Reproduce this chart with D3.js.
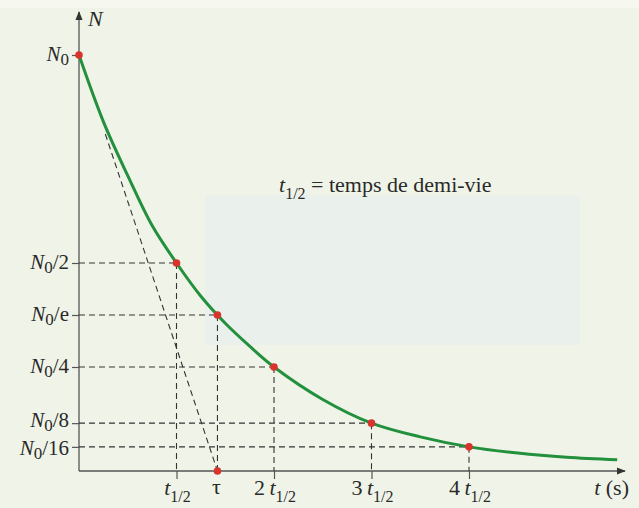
<!DOCTYPE html>
<html>
<head>
<meta charset="utf-8">
<script src="https://cdn.jsdelivr.net/npm/d3@7"></script>
<style>
  body { margin: 0; background: #f0f4e8; }
  svg { display: block; }
</style>
</head>
<body>
<script>
// decay curve (t in half-lives, N as fraction of N0)
const curveT = [0, 0.25, 0.5, 0.75, 1, 1.25, 1.5, 1.75, 2, 2.5, 3, 3.5, 4, 4.5, 5, 5.52];
const curveN = [1, 0.84, 0.71, 0.59, 0.5, 0.42, 0.355, 0.30, 0.25, 0.172, 0.115, 0.082, 0.058, 0.043, 0.033, 0.027];

// marked points
const markT = [0, 1, 1.42, 2, 3, 4];
const markN = [1, 0.5, 0.375, 0.25, 0.115, 0.058];

// y tick labels (N0 over ...)
const yTickVals = [1, 0.5, 0.375, 0.25, 0.115, 0.058];
const yTickDen = ["", "2", "e", "4", "8", "16"];

// x ticks
const xTickVals = [1, 2, 3, 4];
const xTickPre = ["", "2", "3", "4"];
const tauT = 1.42;

// tangent at origin (dashed)
const tangentT = [0.27, 1.42];
const tangentN = [0.81, 0];

const W = 639, H = 508;
const serif = "'Liberation Serif', 'Times New Roman', serif";

const svg = d3.select('body').append('svg')
    .attr('width', W).attr('height', H);

svg.append('rect').attr('width', W).attr('height', H).attr('fill', '#f0f4e8');
// faint print-through of the page behind
svg.append('rect').attr('x', 205).attr('y', 195).attr('width', 375).attr('height', 150)
    .attr('fill', '#eaf1ec');
svg.append('rect').attr('x', 0).attr('y', 0).attr('width', W).attr('height', 8)
    .attr('fill', '#f6f8f0');

const x = d3.scaleLinear().domain([0, 5.6]).range([79, 625]);
const y = d3.scaleLinear().domain([0, 1]).range([471, 55]);

const axisColor = '#555';
const dash = '6,4';

// axes
const yAxis = d3.axisLeft(y).tickValues(yTickVals).tickSize(7).tickFormat('');
const gy = svg.append('g').attr('transform', `translate(${x(0)},0)`).call(yAxis);
gy.select('.domain').remove();
gy.selectAll('.tick line').attr('stroke', axisColor).attr('stroke-width', 1.2);

const xAxis = d3.axisBottom(x).tickValues(xTickVals).tickSize(8).tickFormat('');
const gx = svg.append('g').attr('transform', `translate(0,${y(0)})`).call(xAxis);
gx.select('.domain').remove();
gx.selectAll('.tick line').attr('stroke', axisColor).attr('stroke-width', 1.2);

svg.append('defs').append('marker')
    .attr('id', 'arrow').attr('viewBox', '0 0 10 10')
    .attr('refX', 9).attr('refY', 5)
    .attr('markerWidth', 9).attr('markerHeight', 9)
    .attr('markerUnits', 'userSpaceOnUse')
    .attr('orient', 'auto')
    .append('path').attr('d', 'M0,1 L10,5 L0,9 Z').attr('fill', '#333');

svg.append('line')
    .attr('x1', x(0)).attr('y1', y(0))
    .attr('x2', x(0)).attr('y2', 12)
    .attr('stroke', axisColor).attr('stroke-width', 1.3)
    .attr('marker-end', 'url(#arrow)');
svg.append('line')
    .attr('x1', x(0)).attr('y1', y(0))
    .attr('x2', x(5.6)).attr('y2', y(0))
    .attr('stroke', axisColor).attr('stroke-width', 1.3)
    .attr('marker-end', 'url(#arrow)');

// guide lines (dashed)
const guides = svg.append('g')
    .attr('stroke', '#333').attr('stroke-width', 1.1)
    .attr('stroke-dasharray', dash).attr('fill', 'none');

markT.forEach((t, i) => {
    if (i === 0) return;
    guides.append('line')
        .attr('x1', x(0)).attr('y1', y(markN[i]))
        .attr('x2', x(t)).attr('y2', y(markN[i]));
    guides.append('line')
        .attr('x1', x(t)).attr('y1', y(markN[i]))
        .attr('x2', x(t)).attr('y2', y(0));
});

guides.append('line')
    .attr('x1', x(tangentT[0])).attr('y1', y(tangentN[0]))
    .attr('x2', x(tangentT[1])).attr('y2', y(tangentN[1]));

// decay curve
const line = d3.line()
    .x((d, i) => x(curveT[i]))
    .y(d => y(d))
    .curve(d3.curveCatmullRom);

svg.append('path')
    .datum(curveN)
    .attr('d', line)
    .attr('fill', 'none')
    .attr('stroke', '#22903c')
    .attr('stroke-width', 3);

// red points
const dotsT = markT.concat([tauT]);
const dotsN = markN.concat([0]);
svg.selectAll('.dot')
    .data(dotsT)
    .enter()
    .append('circle')
    .attr('class', 'dot')
    .attr('cx', d => x(d))
    .attr('cy', (d, i) => y(dotsN[i]))
    .attr('r', 3.8)
    .attr('fill', '#d8332c');

const txtColor = '#2a2a2a';
function label(px, py, size) {
    return svg.append('text')
        .attr('x', px).attr('y', py)
        .attr('fill', txtColor)
        .style('font-family', serif)
        .style('font-size', size + 'px');
}

// y labels  N0 / ...  (the last two sit close, pull them apart a little)
yTickVals.forEach((v, i) => {
    const nudge = i === 4 ? -2 : (i === 5 ? 2 : 0);
    const t = label(x(0) - 10, y(v) + 6 + nudge, 21).attr('text-anchor', 'end');
    t.append('tspan').style('font-style', 'italic').text('N');
    t.append('tspan').attr('dy', 4).style('font-size', '17px').text('0');
    if (yTickDen[i] !== '') {
        t.append('tspan').attr('dy', -4).text('/' + yTickDen[i]);
    }
});

// x labels  k t1/2
xTickVals.forEach((v, i) => {
    const t = label(x(v) + 1, 495, 22).attr('text-anchor', 'middle');
    if (xTickPre[i] !== '') t.append('tspan').text(xTickPre[i] + '\u2009');
    t.append('tspan').style('font-style', 'italic').text('t');
    t.append('tspan').attr('dy', 7).style('font-size', '16px').text('1/2');
});

label(x(tauT) - 1, 494, 22).attr('text-anchor', 'middle').text('\u03c4');

// axis names
label(88, 26, 22).style('font-style', 'italic').text('N');

const ts = label(629, 495, 22).attr('text-anchor', 'end');
ts.append('tspan').style('font-style', 'italic').text('t');
ts.append('tspan').text(' (s)');

// annotation
const note = label(279, 192, 22);
note.append('tspan').style('font-style', 'italic').text('t');
note.append('tspan').attr('dy', 7).style('font-size', '16px').text('1/2');
note.append('tspan').attr('dy', -7).text(' = temps de demi-vie');
</script>
</body>
</html>
